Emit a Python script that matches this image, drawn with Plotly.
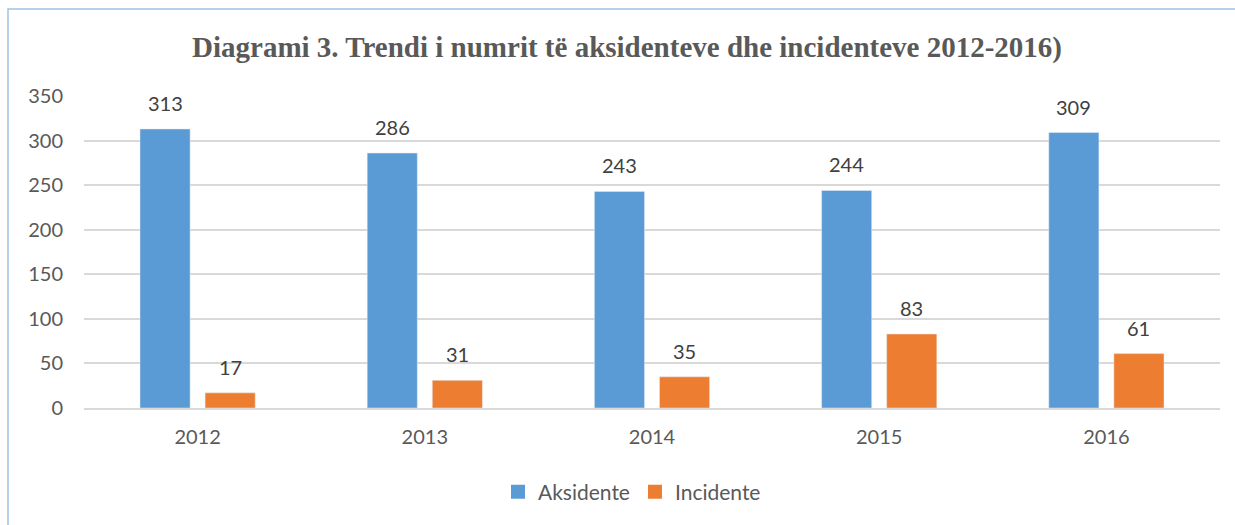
import plotly.graph_objects as go

years = ["2012", "2013", "2014", "2015", "2016"]
aksidente = [313, 286, 243, 244, 309]
incidente = [17, 31, 35, 83, 61]
y_ticks = [0, 50, 100, 150, 200, 250, 300, 350]

W, H = 1235, 525
L, R, T, B = 84, 15, 96, 117
FONT = "Lato, Open Sans, sans-serif"
BLUE, ORANGE = "#5B9BD5", "#ED7D31"

fig = go.Figure()
fig.add_trace(go.Bar(name="Aksidente", x=years, y=aksidente, marker_color=BLUE, showlegend=False))
fig.add_trace(go.Bar(name="Incidente", x=years, y=incidente, marker_color=ORANGE, showlegend=False))
# legend entries with larger square swatches
for name, col in (("Aksidente", BLUE), ("Incidente", ORANGE)):
    fig.add_trace(go.Scatter(x=[None], y=[None], mode="markers", name=name,
                             marker=dict(symbol="square", size=14, color=col), hoverinfo="skip"))

# data labels: category index (position on category axis) + offset of each bar within its group
for series, shift in ((aksidente, -32.5), (incidente, 32.5)):
    for i, v in enumerate(series):
        fig.add_annotation(x=i, y=v, xref="x", yref="y", text=str(v), showarrow=False,
                           xshift=shift, yshift=26, yanchor="middle",
                           font=dict(family=FONT, size=20, color="#404040"))

pw = W - L - R
ph = H - T - B
fig.add_shape(type="rect", xref="paper", yref="paper",
              x0=(8 - L) / pw, x1=(W + 10 - L) / pw,
              y0=(H - B - (H + 10)) / ph, y1=(H - B - 9) / ph,
              line=dict(color="#9DC3E6", width=1.5), fillcolor="rgba(0,0,0,0)", layer="below")

fig.update_layout(
    width=W, height=H,
    margin=dict(l=L, r=R, t=T, b=B, autoexpand=False),
    paper_bgcolor="white", plot_bgcolor="white",
    barmode="group", bargap=0.427, bargroupgap=0.23,
    title=dict(text="<b>Diagrami 3. Trendi i numrit të aksidenteve dhe incidenteve 2012-2016)</b>",
               font=dict(family="Liberation Serif, Times New Roman, serif", size=29, color="#595959"),
               x=627 / W, xanchor="center", xref="container",
               y=1 - 47 / H, yanchor="middle", yref="container"),
    font=dict(family=FONT, size=20, color="#595959"),
    xaxis=dict(type="category", range=[-0.5, len(years) - 0.5], showline=True, linecolor="#D9D9D9",
               linewidth=1.5, ticks="", tickfont=dict(size=20, color="#595959"), ticklabelstandoff=10),
    yaxis=dict(range=[0, 350], tickvals=y_ticks, showgrid=True, gridcolor="#D9D9D9", gridwidth=1.5,
               zeroline=False, showline=False, ticks="",
               tickfont=dict(size=20, color="#595959"), ticklabelstandoff=20),
    legend=dict(orientation="h", x=632 / W, xanchor="center", xref="container",
                y=1 - 492 / H, yanchor="middle", yref="container",
                font=dict(size=21, color="#595959"), itemwidth=30, traceorder="normal"),
    showlegend=True,
)

fig.write_html("out.html", config={"displayModeBar": False})

with open("out.html", encoding="utf-8") as f:
    html = f.read()
html = html.replace("<head>", "<head><style>html,body{margin:0;padding:0;overflow:hidden}</style>", 1)
with open("out.html", "w", encoding="utf-8") as f:
    f.write(html)
